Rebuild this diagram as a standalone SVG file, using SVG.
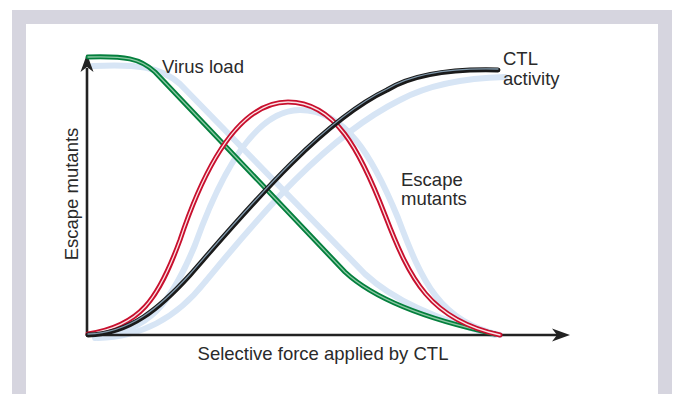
<svg xmlns="http://www.w3.org/2000/svg" width="677" height="394" viewBox="0 0 677 394">
<style>
.lbl{font-family:"Liberation Sans",Arial,sans-serif;font-size:18.5px;fill:#2a2a2a}
.shadow{fill:none;stroke:#d7e5f5;stroke-width:6;stroke-linecap:round;stroke-linejoin:round}
.axis{fill:none;stroke:#222;stroke-width:2.6}
.c{fill:none;stroke-width:5;stroke-linecap:round;stroke-linejoin:round}
.ci{fill:none;stroke-width:1.3;stroke-linecap:round}
</style>
<rect x="12" y="10" width="660" height="400" fill="#d6d5df"/>
<rect x="26" y="24" width="632" height="390" fill="#ffffff"/>
<g id="shadows">
<path class="shadow" d="M93 66 C135 64 160 66 180 84 L365 274 C395 302 445 322 495 335"/>
<path class="shadow" d="M95 338 C150 330 170 305 195 245 C220 175 255 110 300 110 C345 110 372 155 398 218 C422 282 440 322 500 335"/>
<path class="shadow" d="M98 338 C140 337 175 320 205 282 C250 228 320 140 400 100 C430 84 465 78 505 77"/>
</g>
<g id="axes">
<path class="axis" d="M87 68 L87 336 M86 335 L558 335"/>
<path d="M87 54 L80.5 72 L87 67 L93.5 72 Z" fill="#222"/>
<path d="M570 335 L552 328.5 L557 335 L552 341.5 Z" fill="#222"/>
</g>
<g id="virus-load">
<path class="c" stroke="#047f3d" d="M88 57 C125 56 140 58 155 72 L345 272 C375 300 430 320 495 334"/>
<path class="ci" stroke="#8cc9a4" d="M88 57 C125 56 140 58 155 72 L345 272 C375 300 430 320 495 334"/>
</g>
<g id="escape-mutants">
<path class="c" stroke="#c8102e" d="M88 334 C140 326 158 300 180 240 C205 165 240 102 288 102 C335 102 360 150 385 215 C410 280 430 320 500 335"/>
<path class="ci" stroke="#fbe3e6" d="M88 334 C140 326 158 300 180 240 C205 165 240 102 288 102 C335 102 360 150 385 215 C410 280 430 320 500 335"/>
</g>
<g id="ctl-activity">
<path class="c" stroke="#1a1a1a" d="M88 335 C130 334 160 308 190 275 C245 212 320 122 387 90 C415 73 460 69 498 70"/>
<path class="ci" stroke="#7f98ab" d="M88 334 C130 333 160 307 190 274 C245 211 320 121 387 89 C415 72 460 68 498 69"/>
</g>
<g id="labels">
<text class="lbl" x="162" y="73">Virus load</text>
<text class="lbl" x="503" y="65">CTL</text>
<text class="lbl" x="503" y="85">activity</text>
<text class="lbl" x="401" y="186">Escape</text>
<text class="lbl" x="401" y="205">mutants</text>
<text class="lbl" x="323" y="360" text-anchor="middle">Selective force applied by CTL</text>
<text class="lbl" transform="translate(78 194) rotate(-90)" text-anchor="middle">Escape mutants</text>
</g>
</svg>
